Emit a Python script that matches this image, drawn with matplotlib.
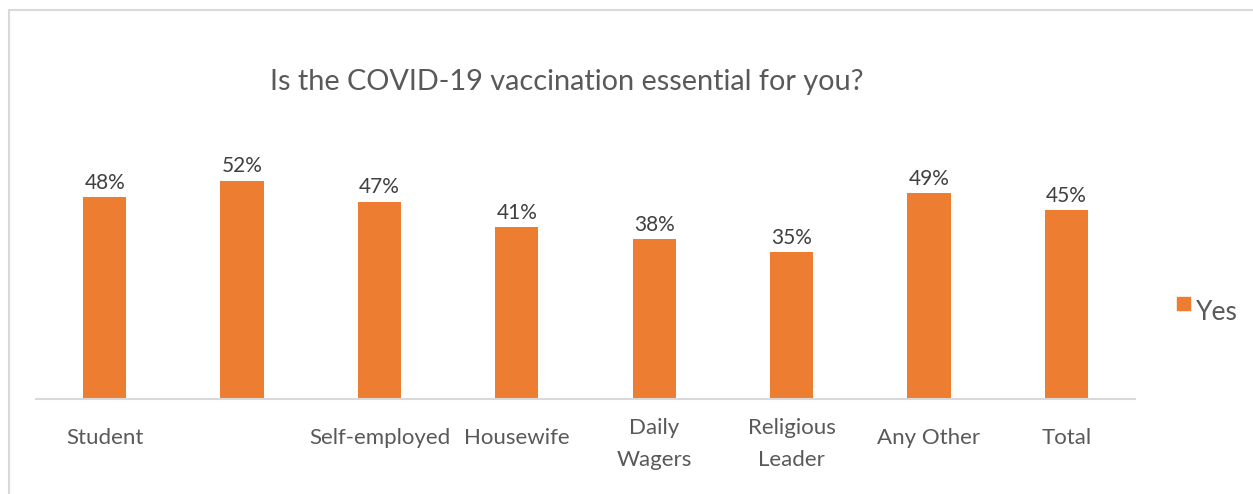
import matplotlib
matplotlib.use("Agg")
import matplotlib.pyplot as plt
from matplotlib.patches import Rectangle

# chart data
categories = ["Student", "", "Self-employed", "Housewife", "Daily\nWagers",
              "Religious\nLeader", "Any Other", "Total"]
yes_pct = [48, 52, 47, 41, 38, 35, 49, 45]

ORANGE = "#ED7D31"
TEXT = "#595959"
GRID = "#D9D9D9"
W, H = 1253, 494

plt.rcParams['font.family'] = ['Lato', 'DejaVu Sans']

fig = plt.figure(figsize=(W / 100, H / 100), dpi=100)
fig.patch.set_facecolor("white")

# outer chart border (only left and top visible in the crop)
fig.patches.append(Rectangle((9 / W, -0.1), 1.2, (H - 10) / H + 0.1, transform=fig.transFigure,
                             fill=False, edgecolor=GRID, linewidth=1.5))

ax = fig.add_axes([36 / W, (H - 399) / H, 1099 / W, 252 / H])
x = range(len(categories))
bars = ax.bar(x, yes_pct, width=0.315, color=ORANGE, label="Yes")
ax.set_xlim(-0.5, len(categories) - 0.5)
ax.set_ylim(0, 60)

for s in ["top", "right", "left"]:
    ax.spines[s].set_visible(False)
ax.spines["bottom"].set_color(GRID)
ax.spines["bottom"].set_linewidth(1.5)
ax.set_yticks([])
ax.set_xticks([])

for b, v in zip(bars, yes_pct):
    ax.annotate(f"{v}%", (b.get_x() + b.get_width() / 2, v), xytext=(0, 3),
                textcoords="offset points", ha="center", va="bottom",
                fontsize=15, color="#404040")

for i, c in enumerate(categories):
    ypix = 444 if "\n" in c else 438
    fig.text((36 + 1099 * (i + 0.5) / len(categories)) / W, (H - ypix) / H, c,
             ha="center", va="center", fontsize=16, color=TEXT, linespacing=1.75)

fig.text(567 / W, (H - 82) / H, "Is the COVID-19 vaccination essential for you?",
         ha="center", va="center", fontsize=20.8, color=TEXT)

fig.patches.append(Rectangle((1177 / W, (H - 310) / H), 13 / W, 13 / H,
                             transform=fig.transFigure, color=ORANGE))
fig.text(1196 / W, (H - 312) / H, "Yes", ha="left", va="center", fontsize=19, color=TEXT)

fig.savefig("out.png", dpi=100)
